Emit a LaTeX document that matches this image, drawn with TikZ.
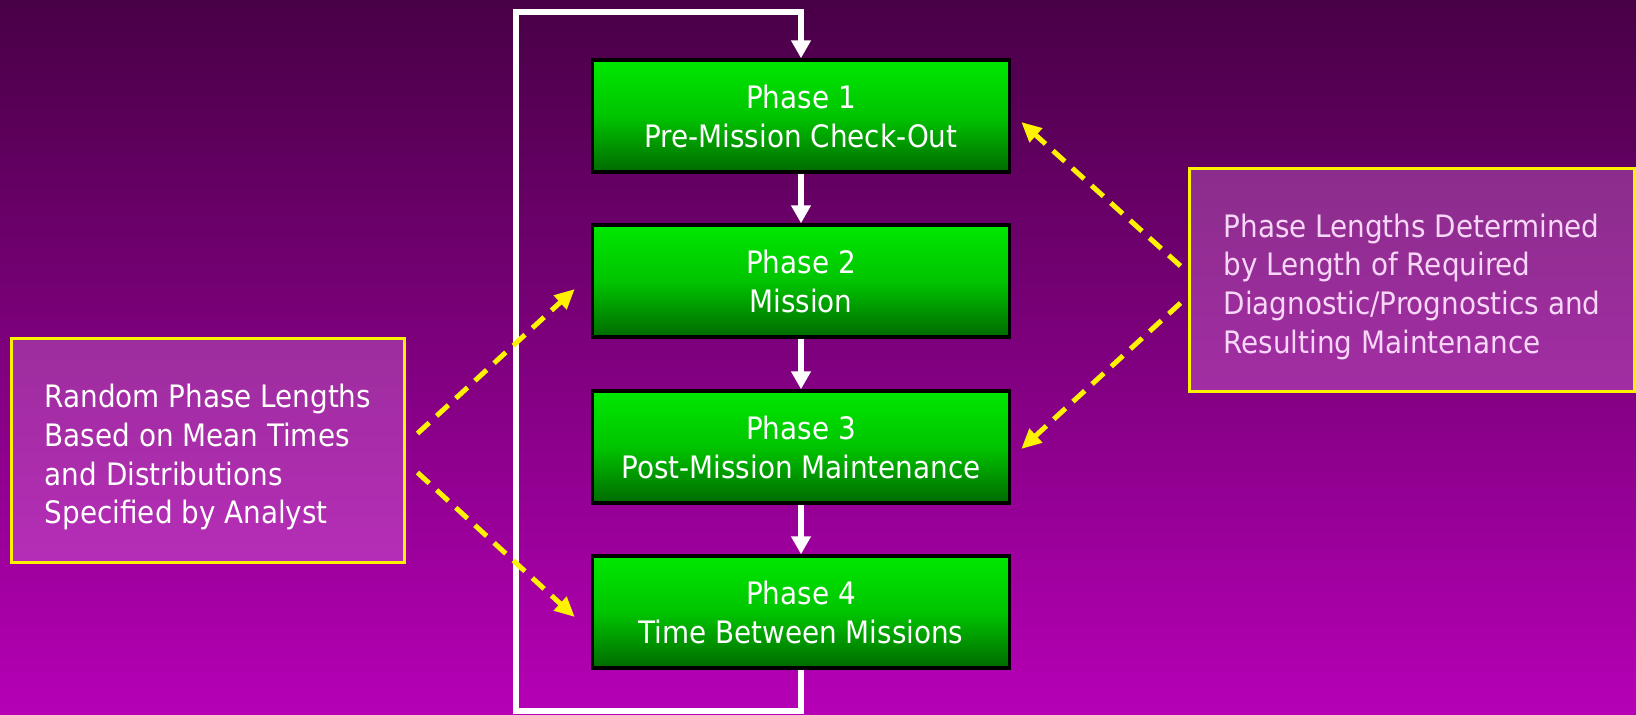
\documentclass[tikz,border=0pt]{standalone}
\usepackage{fontspec}
\setmainfont{DejaVu Sans Condensed}
\usetikzlibrary{arrows.meta,calc}
\definecolor{bgtop}{RGB}{72,0,70}
\definecolor{bgbot}{RGB}{182,0,182}
\definecolor{gtop}{RGB}{0,232,0}
\definecolor{gmid}{RGB}{0,196,0}
\definecolor{gbot}{RGB}{0,106,0}
\definecolor{notefill}{RGB}{235,150,240}
\definecolor{pinktext}{RGB}{248,214,248}
\newcommand{\notestrut}{\rule{0pt}{21pt}}
\begin{document}
\begin{tikzpicture}[x=0.02cm,y=-0.02cm,
  phase/.style={draw=black,line width=0.07cm,top color=gtop,bottom color=gbot,middle color=gmid,
    minimum width=8.34cm,minimum height=2.24cm,align=center,text=white,
    font=\fontsize{17.6}{22.2}\selectfont},
  note/.style={draw=yellow,line width=0.06cm,fill=notefill,fill opacity=0.3,text opacity=1,
    align=left,text=white,font=\fontsize{17.6}{22}\selectfont},
  flow/.style={draw=white,line width=0.13cm,-{Triangle[length=0.36cm,width=0.38cm]}},
  hint/.style={draw=yellow,line width=0.1cm,dash pattern=on 0.32cm off 0.2cm,
    -{Triangle[length=0.4cm,width=0.36cm]}}]
\useasboundingbox (0,0) rectangle (1636,714);
\fill[top color=bgtop,bottom color=bgbot] (0,0) rectangle (1636,714);
% the four phases
\node[phase] (P1) at (801,116) {Phase 1\\Pre-Mission Check-Out};
\node[phase] (P2) at (801,281) {Phase 2\\Mission};
\node[phase] (P3) at (801,447) {Phase 3\\Post-Mission Maintenance};
\node[phase] (P4) at (801,612) {Phase 4\\Time Between Missions};
% side notes
\node[note,minimum width=7.88cm,minimum height=4.5cm] (A) at (208,450.5) {\notestrut Random Phase Lengths\\Based on Mean Times\\and Distributions\\Specified by Analyst};
\node[note,text=pinktext,minimum width=8.92cm,minimum height=4.48cm] (D) at (1412,280) {\notestrut Phase Lengths Determined\\by Length of Required\\Diagnostic/Prognostics and\\Resulting Maintenance};
\draw[flow] (P1) -- (P2);
\draw[flow] (P2) -- (P3);
\draw[flow] (P3) -- (P4);
% loop back to phase 1
\coordinate (bl) at (516,711);
\coordinate (tl) at (516,12);
\draw[flow] (P4.south) |- (bl) -- (tl) -| (P1.north);
\draw[hint] ($(A.east)+(11,-17)$) -- ($(P2.west)+(-16,8)$);
\draw[hint] ($(A.east)+(11,22)$) -- ($(P4.west)+(-16,5)$);
\draw[hint] ($(D.west)+(-7,-14)$) -- ($(P1.east)+(10,6)$);
\draw[hint] ($(D.west)+(-7,23)$) -- ($(P3.east)+(10,2)$);
\end{tikzpicture}
\end{document}
